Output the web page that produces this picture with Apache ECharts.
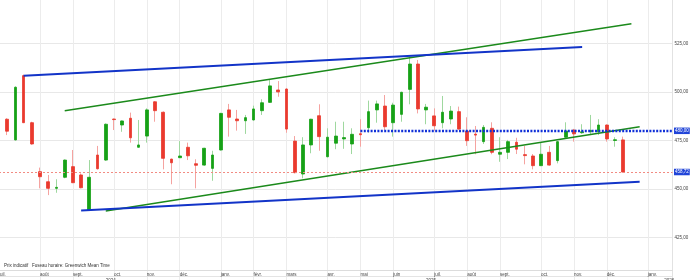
<!DOCTYPE html>
<html><head><meta charset="utf-8">
<script src="https://cdn.jsdelivr.net/npm/echarts@6/dist/echarts.min.js"></script>
<style>html,body{margin:0;padding:0;background:#fff;overflow:hidden;width:690px;height:280px;position:relative}
#c{position:absolute;left:-4px;top:-5px;width:700px;height:291px}</style>
</head><body><div id="c"></div>
<script>
// weekly candles (Monday dates)
const weeks = [
 '2024-07-01','2024-07-08','2024-07-15','2024-07-22','2024-07-29',
 '2024-08-05','2024-08-12','2024-08-19','2024-08-26',
 '2024-09-02','2024-09-09','2024-09-16','2024-09-23','2024-09-30',
 '2024-10-07','2024-10-14','2024-10-21','2024-10-28',
 '2024-11-04','2024-11-11','2024-11-18','2024-11-25',
 '2024-12-02','2024-12-09','2024-12-16','2024-12-23','2024-12-30',
 '2025-01-06','2025-01-13','2025-01-20','2025-01-27',
 '2025-02-03','2025-02-10','2025-02-17','2025-02-24',
 '2025-03-03','2025-03-10','2025-03-17','2025-03-24','2025-03-31',
 '2025-04-07','2025-04-14','2025-04-21','2025-04-28',
 '2025-05-05','2025-05-12','2025-05-19','2025-05-26',
 '2025-06-02','2025-06-09','2025-06-16','2025-06-23','2025-06-30',
 '2025-07-07','2025-07-14','2025-07-21','2025-07-28',
 '2025-08-04','2025-08-11','2025-08-18','2025-08-25',
 '2025-09-01','2025-09-08','2025-09-15','2025-09-22','2025-09-29',
 '2025-10-06','2025-10-13','2025-10-20','2025-10-27',
 '2025-11-03','2025-11-10','2025-11-17','2025-11-24',
 '2025-12-01','2025-12-08','2025-12-15','2025-12-22','2025-12-29',
 '2026-01-05','2026-01-12','2026-01-19','2026-01-26'
];
const opens = [null,
 486.0,475.3,508.5,484.2,458.9,453.7,450.3,456.0,461.5,457.2,
 439.1,467.5,464.9,486.1,483.0,486.5,471.5,477.3,495.0,489.6,
 465.4,466.1,471.5,463.0,462.3,460.6,470.1,490.8,486.1,485.2,
 485.6,490.4,494.7,501.1,501.6,474.7,457.7,472.7,487.8,466.6,
 473.6,475.8,473.2,478.5,481.6,490.8,492.8,484.2,488.5,501.4,
 514.5,490.8,487.7,484.2,486.1,489.9,479.9,478.3,474.4,481.3,
 467.9,468.9,474.1,467.7,467.0,462.0,468.9,464.6,476.7,480.4,
 479.0,479.5,479.5,483.0,475.0,475.3];
const closes = [null,
 479.8,502.5,484.2,473.2,456.3,450.3,450.8,464.9,453.2,450.6,
 456.0,460.4,483.4,485.8,485.1,476.4,472.7,490.8,490.4,465.8,
 463.5,467.0,467.1,462.2,471.0,467.5,489.0,487.0,485.2,486.8,
 491.3,494.5,503.2,500.1,480.9,458.4,472.7,486.0,477.0,476.7,
 477.3,476.5,478.2,478.0,489.9,493.9,482.1,493.3,499.9,514.5,
 491.3,492.2,482.6,489.6,490.2,480.9,474.9,477.8,481.8,468.9,
 468.9,474.4,470.5,467.2,462.0,467.9,462.3,474.4,479.9,478.4,
 479.5,480.2,483.0,475.8,475.4,458.72];
const lows = [null,
 477.8,475.0,484.0,472.8,450.3,446.8,448.0,455.5,453.0,450.3,
 439.0,460.0,464.5,480.4,479.5,473.9,471.3,473.9,484.7,460.1,
 452.4,466.0,464.9,450.3,462.0,454.2,469.8,477.0,480.1,478.4,
 485.3,488.2,494.5,497.6,479.0,458.0,455.5,468.4,469.7,466.3,
 470.5,470.7,468.0,471.8,479.0,484.2,480.4,477.0,484.7,493.7,
 489.0,483.4,480.1,481.3,483.4,480.6,472.2,467.9,473.2,467.9,
 464.0,465.4,468.0,462.7,460.1,461.8,462.0,463.2,476.4,474.4,
 478.5,477.8,477.8,474.4,471.8,458.5];
const highs = [null,
 486.5,503.0,509.0,484.7,461.0,457.2,455.0,465.2,470.1,458.0,
 464.9,472.2,483.8,486.3,485.3,489.4,485.6,491.6,495.3,490.0,
 465.6,474.7,473.9,465.3,471.2,469.7,489.3,493.9,490.8,488.2,
 493.0,496.3,506.6,505.7,502.0,477.3,476.7,486.2,493.7,481.3,
 484.7,484.7,481.3,486.0,495.6,495.6,498.5,494.5,500.2,518.3,
 516.6,493.9,491.6,498.0,492.8,492.5,487.0,482.5,483.0,484.4,
 476.7,475.3,476.4,472.2,468.0,473.9,472.2,474.7,484.4,481.0,
 483.4,488.2,486.0,483.3,476.7,477.0];

const monthLabels = ['janv.','févr.','mars','avr.','mai','juin','juil.','août','sept.','oct.','nov.','déc.'];
const yearLabels = [['2024-09-30','2024'],['2025-06-30','2025'],['2026-01-19','2026']];
const yTicks = [425, 450, 475, 500, 525];
const lastPrice = 458.72;
const resistance = 480;
const resistanceFrom = '2025-05-05';
const resistanceTo = '2026-01-26';
const blueUpper = [['2024-07-22', 508.5], ['2025-11-10', 523.3]];
const blueLower = [['2024-09-09', 438.9], ['2025-12-29', 453.7]];
const greenUpper = [['2024-08-26', 490.4], ['2025-12-22', 535.3]];
const greenLower = [['2024-09-30', 438.6], ['2025-12-29', 482.1]];
const footLeft = 'Prix indicatif';
const footRight = 'Fuseau horaire: Greenwich Mean Time';

const fmt = v => v.toFixed(2).replace('.', ',');
const FONT = 'Liberation Sans';
const UP = '#16a116', DOWN = '#ea3a2e', UPW = '#9fd89f', DOWNW = '#f5a3a0';
const BLUE = '#1234c8', GREEN = '#1b8a1b', BADGE = '#2044d8';

const wickData = weeks.map((d, i) => opens[i] == null ? '-' : [opens[i], closes[i], lows[i], highs[i]]);
const bodyData = weeks.map((d, i) => opens[i] == null ? '-' :
  [opens[i], closes[i], Math.min(opens[i], closes[i]), Math.max(opens[i], closes[i])]);

const isMonthStart = (idx, val) => +String(val).slice(8, 10) <= 7;
const yearMap = Object.fromEntries(yearLabels);

const chart = echarts.init(document.getElementById('c'), null, {renderer: 'canvas'});
chart.setOption({
  animation: false,
  backgroundColor: '#fff',
  textStyle: {fontFamily: FONT},
  title: [
    {text: footLeft, left: 8, top: 268, textStyle: {fontSize: 4.5, fontWeight: 'normal', color: '#333', fontFamily: FONT}, padding: 0},
    {text: footRight, left: 36, top: 268, textStyle: {fontSize: 4.5, fontWeight: 'normal', color: '#333', fontFamily: FONT}, padding: 0}
  ],
  grid: {left: 0.6, right: 23.5, top: 0.3, bottom: 0.3, containLabel: false},
  xAxis: [{
    type: 'category', data: weeks, boundaryGap: false, position: 'bottom', offset: -15,
    axisLine: {show: true, lineStyle: {color: '#dcdcdc', width: 1}},
    axisTick: {show: false},
    splitLine: {show: true, interval: isMonthStart, lineStyle: {color: '#ececec', width: 1}},
    axisLabel: {interval: isMonthStart, formatter: v => monthLabels[+v.slice(5, 7) - 1],
      align: 'left', fontSize: 4.5, color: '#444', margin: 1.2, fontFamily: FONT}
  }, {
    type: 'category', data: weeks, boundaryGap: false, position: 'bottom', offset: -9,
    axisLine: {show: true, lineStyle: {color: '#e4e4e4', width: 1}},
    axisTick: {show: false}, splitLine: {show: false},
    axisLabel: {interval: (idx, v) => yearMap[v] !== undefined, formatter: v => yearMap[v] || '',
      align: 'left', fontSize: 4.5, color: '#444', margin: 1.2, fontFamily: FONT}
  }],
  yAxis: {
    type: 'value', position: 'right', min: 400, max: 550, interval: 25,
    axisLine: {show: true, lineStyle: {color: '#e2e2e2'}},
    axisTick: {show: false},
    splitLine: {show: true, lineStyle: {color: '#e8e8e8', width: 1}},
    axisLabel: {formatter: v => yTicks.includes(v) ? fmt(v) : '', fontSize: 4.5, color: '#444', margin: 2,
      showMinLabel: false, showMaxLabel: false, fontFamily: FONT}
  },
  series: [{
    type: 'candlestick', name: 'wick', data: wickData, barWidth: 1, z: 2,
    itemStyle: {color: UPW, color0: DOWNW, borderColor: UPW, borderColor0: DOWNW, borderWidth: 1}
  }, {
    type: 'candlestick', name: 'body', data: bodyData, barWidth: 3.2, z: 3,
    itemStyle: {color: UP, color0: DOWN, borderColor: UP, borderColor0: DOWN, borderWidth: 0.8},
    markLine: {
      silent: true, symbol: ['none', 'none'], animation: false,
      data: [
        {yAxis: lastPrice,
          lineStyle: {type: [2, 2], color: '#f28b82', width: 1},
          label: {show: true, position: 'end', formatter: fmt(lastPrice), backgroundColor: BADGE, color: '#fff',
            fontSize: 4.5, padding: [1, 1, 0.5, 1], distance: 1.5, fontFamily: FONT}},
        [{coord: [resistanceFrom, resistance],
          lineStyle: {type: [2, 1.4], color: '#1030d8', width: 2.4, cap: 'butt'},
          label: {show: true, position: 'end', formatter: fmt(resistance), backgroundColor: BADGE, color: '#fff',
            fontSize: 4.5, padding: [1, 1, 0.5, 1], distance: 1.5, fontFamily: FONT}},
         {coord: [resistanceTo, resistance]}]
      ]
    }
  }, {
    type: 'line', data: greenUpper, symbol: 'none', z: 4, lineStyle: {color: GREEN, width: 1.4}
  }, {
    type: 'line', data: greenLower, symbol: 'none', z: 4, lineStyle: {color: GREEN, width: 1.4}
  }, {
    type: 'line', data: blueUpper, symbol: 'none', z: 5, lineStyle: {color: BLUE, width: 2}
  }, {
    type: 'line', data: blueLower, symbol: 'none', z: 5, lineStyle: {color: BLUE, width: 2}
  }]
});
</script>
</body></html>
